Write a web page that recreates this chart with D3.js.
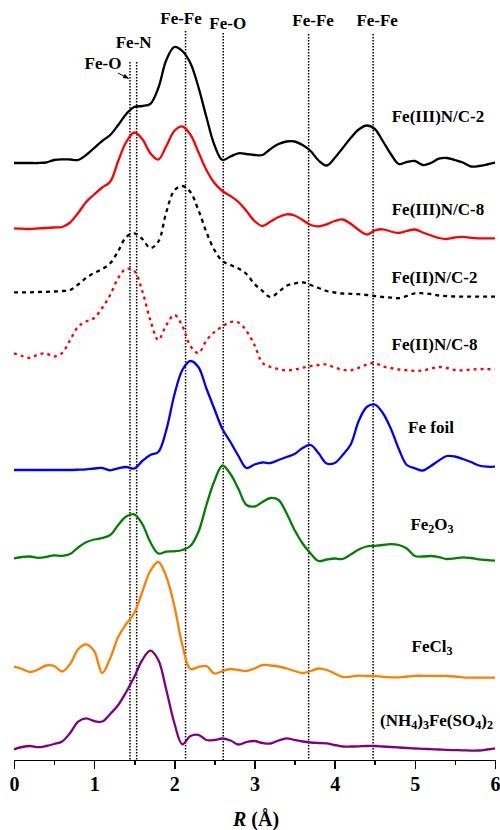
<!DOCTYPE html>
<html>
<meta charset="utf-8">
<style>
body { margin: 0; background: #fff; }
svg { display: block; }
.axis path, .axis line { stroke: #000; stroke-width: 1.6; fill: none; shape-rendering: crispEdges; }
.axis text { font-family: 'Liberation Serif', 'Times New Roman', serif; font-weight: bold; font-size: 20px; fill: #000; }
.label, .ref-label { font-family: 'Liberation Serif', 'Times New Roman', serif; font-weight: bold; font-size: 17px; fill: #000; }
.ref { stroke: #000; stroke-width: 1.5; stroke-dasharray: 1.5,1.5; }
.curve { fill: none; stroke-width: 2.3; stroke-linejoin: round; }
</style>
<body>
<script src="https://cdn.jsdelivr.net/npm/d3@7"></script>
<script>
var w = 500, h = 830;

// R grid (Å)
var R = [0.0, 0.1, 0.2, 0.3, 0.4, 0.5, 0.6, 0.7, 0.8, 0.9,
         1.0, 1.1, 1.2, 1.3, 1.4, 1.5, 1.6, 1.7, 1.8, 1.9,
         2.0, 2.1, 2.2, 2.3, 2.4, 2.5, 2.6, 2.7, 2.8, 2.9,
         3.0, 3.1, 3.2, 3.3, 3.4, 3.5, 3.6, 3.7, 3.8, 3.9,
         4.0, 4.1, 4.2, 4.3, 4.4, 4.5, 4.6, 4.7, 4.8, 4.9,
         5.0, 5.1, 5.2, 5.3, 5.4, 5.5, 5.6, 5.7, 5.8, 5.9,
         6.0];

// FT magnitudes (a.u.)
var fe3nc2 = [0, 0, 0, 0, 0.5, 3, 3.7, 3.5, 3, 8,
  15, 22, 28, 38, 49, 56, 57, 59, 75, 103,
  116, 112, 100, 76, 46, 18, 3, 6.5, 9.7, 9,
  8, 8, 14, 19, 21.5, 21.5, 18, 12, 2.5, -2.5,
  5, 15, 25, 33.5, 37.5, 34, 22, 9, -1, 1,
  2, -2, 0, 4.3, 5, 3, 0.5, -3.5, -3, -1.5,
  0.3];
var fe3nc8 = [-0.3, -0.7, -1, -0.5, 0, 0.5, 1, 5.5, 15, 26,
  33.5, 40.5, 46.3, 67, 86, 95.5, 89, 74.7, 68.5, 82,
  97, 101.5, 93.5, 76, 58, 45, 37, 32, 26, 17,
  7, 2, 6.5, 11, 13.7, 12.5, 8, 3, 1.7, 3.7,
  7, 8.5, 4.2, -2, -6.5, -2.5, -1.3, -3.5, -5, -3,
  -1.5, -4.5, -7.3, -10, -11, -9.5, -8.8, -9.8, -10.3, -10.3,
  -10.3];
var fe2nc2 = [-0.3, -0.3, -0.3, 0, 0.2, 0.5, 1, 2, 7.5, 14,
  19, 23, 28.7, 41, 55, 58.7, 53, 44, 50.3, 80,
  101.5, 106, 100, 82, 60, 42, 31, 27, 23.5, 18,
  8, 1, -5, 0, 6.3, 8.5, 9.7, 7, 4, 1,
  -0.5, -1.5, -1.8, -2.2, -3, -4, -5, -5.6, -6.2, -4,
  -1.3, -1.3, -2, -3.5, -4.2, -4.5, -4.7, -4.7, -4.7, -4.7,
  -4.7];
var fe2nc8 = [14.7, 12, 10, 13.5, 14.5, 11.5, 15, 28, 41.3, 46.5,
  50, 60, 73, 90, 99.2, 97, 77, 48, 28, 43,
  53, 42, 22, 15, 27.5, 36, 41.5, 46, 45.5, 37,
  23, 5, 1, -1, -2.5, -1.5, 0.3, 1.8, 3, 3.5,
  0.5, -1.7, -2.3, 0.2, 3.5, 5, 1.5, 0, -1.5, -2.2,
  -2.8, -2.5, -0.5, 1, 0, -2, -2.3, -1.6, -1, -1.2,
  -1.3];
var feFoil = [0, 0, 0, 0, 0, 0, 0, 0, 0.3, 0.7,
  1.5, 2, -0.3, 1.7, 3, 1.5, 9, 15, 18, 40,
  75, 100, 109, 103, 81.5, 61, 41, 28, 14, 2,
  5.5, 7.5, 7, 10, 13, 16, 22, 25, 16.7, 6.5,
  7, 15, 25.5, 49, 63, 65.5, 57, 41.5, 21, 5,
  1.7, -0.5, 4, 9.5, 14, 13.5, 11, 8, 4.5, 3.3,
  3.3];
var fe2o3 = [-0.3, 1, 1.5, 0.2, 1, 2.7, 2.2, 4, 10.5, 15.7,
  18.5, 20, 23, 33, 41.5, 43.7, 34, 16, 4.5, 6.3,
  6.7, 8, 12, 26, 53, 77, 92.5, 84, 69, 53,
  51.5, 56, 60, 58, 44.7, 28, 14.5, 4.5, -3, -1.5,
  -0.5, -1, 3.5, 8.5, 11.5, 12.2, 13, 13.8, 13, 9.5,
  2, 1.5, 2, 0.8, -1, -0.3, 0.7, 0, -1.3, -2,
  -2.7];
var fecl3 = [3.3, 1, -2, 0.5, 4.5, 4, -1.5, 6, 20.7, 25.7,
  19, -3, 11.7, 33, 46, 57, 78, 99, 108, 93.3,
  64, 25, 1, 3, 4, -3.5, -1, 1, 0, -1,
  1.5, 5, 4.5, 3.5, 1.5, -1, -3, -1, 1.5, 0,
  -3.5, -7, -6.7, -5.7, -6, -6, -6.8, -7.3, -7.3, -6.5,
  -5.8, -5.8, -5.8, -6, -6, -6.5, -7.4, -7.7, -7.7, -7.7,
  -7.7];
var nh4fe = [-1.3, 1, 2, 0.8, 2, 4, 6.5, 15, 26.3, 29.7,
  27, 26.5, 34, 43, 56, 71, 88, 97.3, 88, 58,
  25, 3.7, 12, 13.2, 8, 8, 9.5, 7.5, 3.5, 6,
  7, 5, 4.5, 7.5, 9.7, 8, 6.5, 5.5, 5, 4.7,
  3, 1.5, 1.5, 1.7, 2, 2, 1.5, 1, 0.5, 0,
  -0.5, -0.8, -1.2, -1.5, -1.9, -2.1, -2.3, -2.6, -2.5, -1.5,
  -0.3];

// vertical offsets of the stacked spectra (a.u.)
var offsets = [597, 532, 468, 392, 290, 202, 90, 12];

// reference shells
var refR = [1.447, 1.53, 2.14, 2.61, 3.675, 4.48];
var refNames = ["Fe-O", "Fe-N", "Fe-Fe", "Fe-O", "Fe-Fe", "Fe-Fe"];

var xTicks = [0, 1, 2, 3, 4, 5, 6];
var xMinor = [0.5, 1.5, 2.5, 3.5, 4.5, 5.5];

// series styling + label placement
var series = [
  { data: fe3nc2, color: "#000000", dash: null,  label: [["Fe(III)N/C-2"]], lx: 438, ly: 122 },
  { data: fe3nc8, color: "#ff0000", dash: null,  label: [["Fe(III)N/C-8"]], lx: 438, ly: 215 },
  { data: fe2nc2, color: "#000000", dash: "4,4", label: [["Fe(II)N/C-2"]], lx: 434.5, ly: 283 },
  { data: fe2nc8, color: "#ff0000", dash: "3,4", label: [["Fe(II)N/C-8"]], lx: 434.5, ly: 350 },
  { data: feFoil, color: "#0000ff", dash: null,  label: [["Fe foil"]], lx: 431, ly: 433 },
  { data: fe2o3,  color: "#008000", dash: null,  label: [["Fe"], ["2", 1], ["O"], ["3", 1]], lx: 432, ly: 530 },
  { data: fecl3,  color: "#ff8000", dash: null,  label: [["FeCl"], ["3", 1]], lx: 432, ly: 652 },
  { data: nh4fe,  color: "#800080", dash: null,  label: [["(NH"], ["4", 1], [")"], ["3", 1], ["Fe(SO"], ["4", 1], [")"], ["2", 1]], lx: 436.5, ly: 726 }
];
// label placement for the shell names
var refLabelPos = [[-27, 69], [-3, 48], [-4.5, 24], [4.5, 29], [4.5, 26], [4, 26]];
var refTop = [62, 62, 31, 33, 34, 34];

var xScale = d3.scaleLinear().domain([0, 6]).range([14, 495]);
var yScale = d3.scaleLinear().domain([0, 760]).range([760, 0]);

var svg = d3.select("body").append("svg")
    .attr("width", w)
    .attr("height", h);

svg.append("defs").append("marker")
    .attr("id", "arrow")
    .attr("viewBox", "0 0 10 10")
    .attr("refX", 9).attr("refY", 5)
    .attr("markerWidth", 6).attr("markerHeight", 6)
    .attr("orient", "auto")
  .append("path")
    .attr("d", "M0,1 L10,5 L0,9 Z")
    .attr("fill", "#000");

// dotted reference lines
svg.selectAll(".ref")
    .data(refR)
  .enter().append("line")
    .attr("class", "ref")
    .attr("x1", function(d) { return xScale(d); })
    .attr("x2", function(d) { return xScale(d); })
    .attr("y1", function(d, i) { return refTop[i]; })
    .attr("y2", yScale(0));

svg.selectAll(".ref-label")
    .data(refNames)
  .enter().append("text")
    .attr("class", "ref-label")
    .attr("x", function(d, i) { return xScale(refR[i]) + refLabelPos[i][0]; })
    .attr("y", function(d, i) { return refLabelPos[i][1]; })
    .style("text-anchor", "middle")
    .text(function(d) { return d; });

// little arrow from the Fe-O label
svg.append("line")
    .attr("x1", 118).attr("y1", 73)
    .attr("x2", xScale(refR[0]) - 1.5).attr("y2", 78.5)
    .attr("stroke", "#000").attr("stroke-width", 1)
    .attr("marker-end", "url(#arrow)");

// spectra
var line = d3.line()
    .curve(d3.curveCatmullRom.alpha(0.5));

series.forEach(function(s, k) {
  var pts = R.map(function(r, i) { return [xScale(r), yScale(s.data[i] + offsets[k])]; });
  svg.append("path")
      .attr("class", "curve")
      .attr("d", line(pts))
      .attr("stroke", s.color)
      .attr("stroke-dasharray", s.dash);

  var t = svg.append("text")
      .attr("class", "label")
      .attr("x", s.lx)
      .attr("y", s.ly)
      .style("text-anchor", "middle");
  var sub = false;
  s.label.forEach(function(p) {
    var ts = t.append("tspan").text(p[0]);
    if (p[1]) {
      ts.style("font-size", "12px").attr("dy", sub ? 0 : 3);
      sub = true;
    } else if (sub) {
      ts.attr("dy", -3);
      sub = false;
    }
  });
});

// x axis
svg.append("g")
    .attr("class", "axis")
    .attr("transform", "translate(0," + yScale(0) + ")")
    .call(d3.axisBottom(xScale).tickValues(xTicks).tickSize(9).tickSizeOuter(0).tickPadding(8).tickFormat(d3.format("d")));

svg.append("g")
    .attr("class", "axis")
    .attr("transform", "translate(0," + yScale(0) + ")")
    .call(d3.axisBottom(xScale).tickValues(xMinor).tickSize(5).tickSizeOuter(0).tickFormat(""))
    .select(".domain").remove();

var title = svg.append("text")
    .attr("x", 256)
    .attr("y", 826)
    .style("text-anchor", "middle")
    .style("font-family", "'Liberation Serif', 'Times New Roman', serif")
    .style("font-weight", "bold")
    .style("font-size", "20px");
title.append("tspan").style("font-style", "italic").text("R");
title.append("tspan").text(" (Å)");
</script>
</body>
</html>
